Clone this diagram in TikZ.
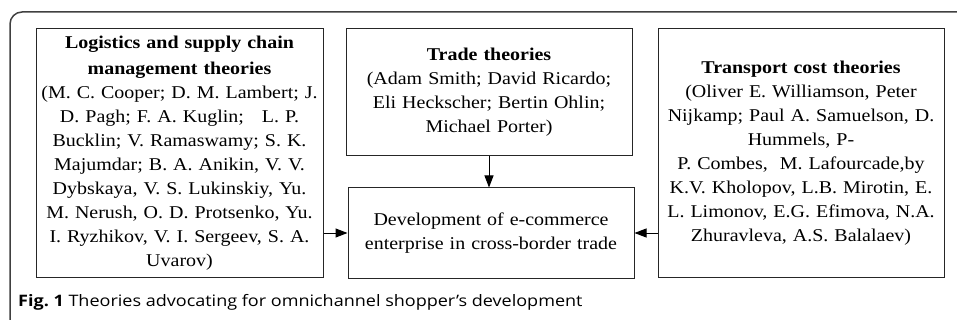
\documentclass[tikz,border=0pt]{standalone}
\usepackage{fontspec}
\setmainfont{Liberation Serif}[FakeStretch=1.11]
\newfontfamily\capfont{Open Sans}[FakeStretch=1.14]
\usetikzlibrary{arrows.meta}
\tikzset{
  box/.style={draw=black!85, line width=1pt, align=center, inner sep=0pt,
    font=\fontsize{18}{24}\selectfont},
  arr/.style={draw=black, line width=1pt, -{Triangle[length=12pt,width=9pt]}},
}
\begin{document}
\frenchspacing
\begin{tikzpicture}[x=1pt,y=-1pt]
\useasboundingbox (0,0) rectangle (957,320);
\draw[black!75, line width=1.5pt, rounded corners=12pt] (10,320) -- (10,12) -- (957,12);
\node[box, text width=285pt, minimum width=287pt, minimum height=248pt] (lb) at (179.5,153)
 {\textbf{Logistics and supply chain}\\[2pt]
  \textbf{management theories}\\
  (M. C. Cooper; D. M. Lambert; J.\\
  D. Pagh; F. A. Kuglin; \ \ L. P.\\
  Bucklin; V. Ramaswamy; S. K.\\
  Majumdar; B. A. Anikin, V. V.\\
  Dybskaya, V. S. Lukinskiy, Yu.\\
  M. Nerush, O. D. Protsenko, Yu.\\
  I. Ryzhikov, V. I. Sergeev, S. A.\\
  Uvarov)};
\node[box, text width=284pt, minimum width=286pt, minimum height=127pt] (mt) at (489,92.5)
 {\textbf{Trade theories}\\
  (Adam Smith; David Ricardo;\\
  Eli Heckscher; Bertin Ohlin;\\
  Michael Porter)};
\node[box, text width=284pt, minimum width=286pt, minimum height=90pt] (mb) at (491,233)
 {Development of e-commerce\\
  enterprise in cross-border trade};
\node[box, text width=284pt, minimum width=286pt, minimum height=248pt] (rb) at (801,153)
 {\textbf{Transport cost theories}\\
  (Oliver E. Williamson, Peter\\
  Nijkamp; Paul A. Samuelson, D.\\
  Hummels, P-\\
  P. Combes, \ M. Lafourcade,by\\
  K.V. Kholopov, L.B. Mirotin, E.\\
  L. Limonov, E.G. Efimova, N.A.\\
  Zhuravleva, A.S. Balalaev)};
\draw[arr] (mt.south) -- (mt.south |- mb.north);
\draw[arr] (lb.east |- mb.west) -- (mb.west);
\draw[arr] (rb.west |- mb.east) -- (mb.east);
\node[anchor=base west, inner sep=0pt, font=\capfont\fontsize{15.8}{18}\selectfont] (cap) at (18,306)
 {\textbf{Fig. 1} Theories advocating for omnichannel shopper’s development};
\end{tikzpicture}
\end{document}
